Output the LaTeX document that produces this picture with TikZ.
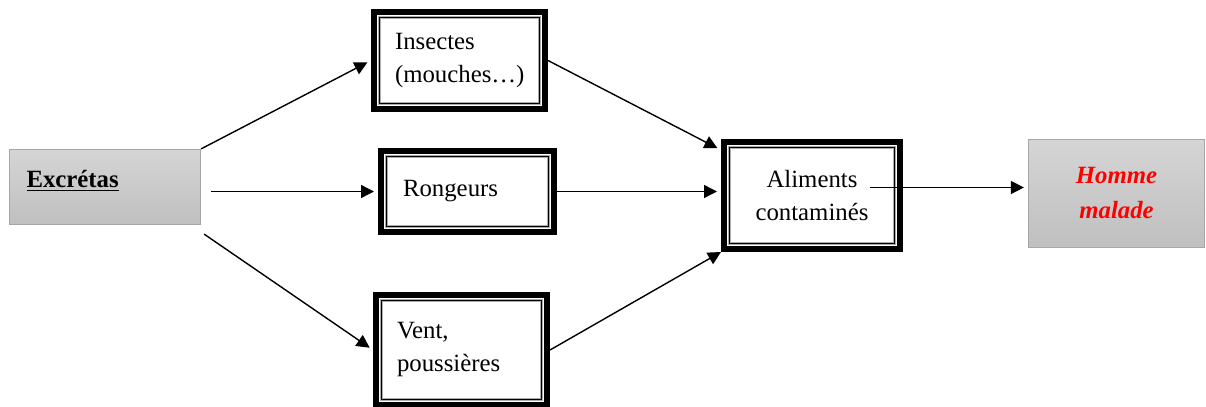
\documentclass[tikz,border=0pt]{standalone}
\usepackage{fontspec}
\setmainfont{Liberation Serif}
\usetikzlibrary{positioning, arrows.meta}

\begin{document}
\begin{tikzpicture}[
  x=0.5pt, y=-0.5pt,
  every node/.style={font=\fontsize{12.4}{16.5}\selectfont},
  graybox/.style={rectangle, draw=gray!70, line width=0.6pt, top color=gray!33, bottom color=gray!50, inner sep=0pt},
  framed/.style={rectangle, draw, line width=3pt, inner sep=0pt, fill=white, text width=64.5pt, align=left,
    path picture={
      \draw[gray!65, line width=1.5pt] ([shift={(2.8pt,2.8pt)}]path picture bounding box.south west) rectangle ([shift={(-2.8pt,-2.8pt)}]path picture bounding box.north east);
      \draw[black, line width=0.35pt] ([shift={(2.8pt,2.8pt)}]path picture bounding box.south west) rectangle ([shift={(-2.8pt,-2.8pt)}]path picture bounding box.north east);
    }},
  arrow/.style={-{Triangle[length=6.5pt, width=6.5pt]}, line width=0.7pt, shorten >=2pt}
]
  \useasboundingbox (0,0) rectangle (1206,407);

  % Source and target
  \node[graybox, minimum width=95.5pt, minimum height=37.5pt, text width=78.5pt, align=left, text height=8pt, text depth=8pt] (exc) at (105,187) {\underline{\textbf{Excrétas}}};
  \node[graybox, minimum width=88pt, minimum height=54pt, align=center, font=\fontsize{12.4}{17.5}\selectfont\bfseries\itshape, text=red] (hom) at (1116.5,193.5) {Homme\\malade};

  % Vectors
  \node[framed, minimum width=85.5pt, minimum height=48.5pt] (ins) at (459.5,60.5) {Insectes\\(mouches\dots)};
  \node[framed, minimum width=86.5pt, minimum height=40.5pt] (ron) at (467.5,191.5) {Rongeurs};
  \node[framed, minimum width=85.5pt, minimum height=55pt] (vent) at (461.5,350) {Vent,\\poussières};

  % Food
  \node[framed, minimum width=88pt, minimum height=53.5pt, text width=80pt, align=center] (ali) at (812,195.5) {Aliments\\contaminés};

  % Arrows
  \draw[arrow] (exc.north east) -- (ins.west);
  \draw[arrow] ([xshift=5pt]exc.east |- ron.west) -- (ron.west);
  \draw[arrow] ([shift={(1.5pt,-4.5pt)}]exc.south east) -- (vent.west);
  \draw[arrow] (ins.east) -- ([yshift=-5.5pt]ali.north west);
  \draw[arrow] (ron.east) -- (ron.east -| ali.west);
  \draw[arrow, shorten >=0pt] (vent.east) -- (ali.south west);
  \coordinate (alout) at ([xshift=29pt, yshift=4pt]ali.center);
  \draw[arrow] (alout) -- (alout -| hom.west);

\end{tikzpicture}
\end{document}
